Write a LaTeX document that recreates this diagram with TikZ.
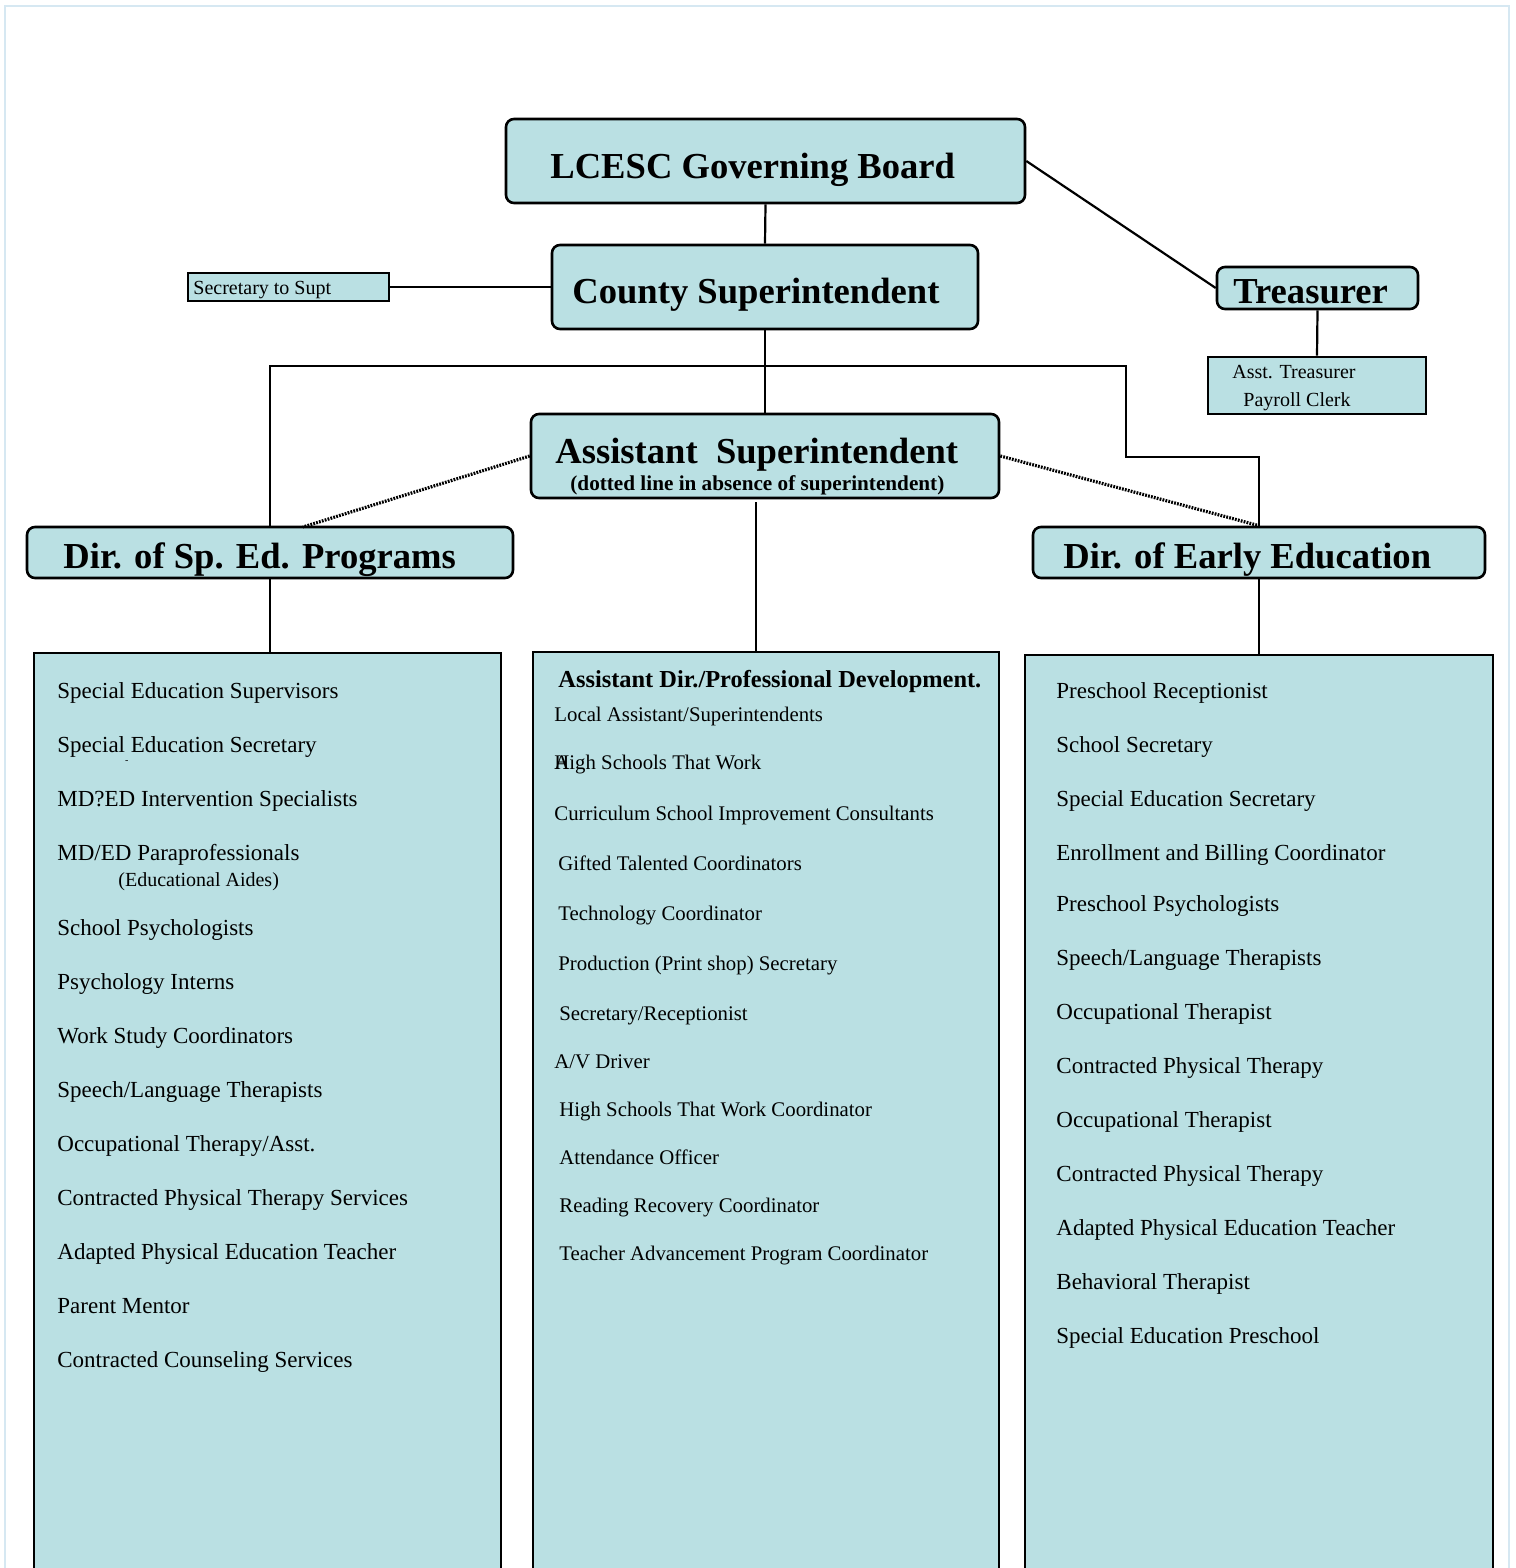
\documentclass[tikz,border=0pt]{standalone}
\usepackage{fontspec}
\setmainfont{Liberation Serif}
\usetikzlibrary{fit}
\definecolor{boxfill}{RGB}{186,224,227}
\definecolor{pageline}{RGB}{214,232,242}
\begin{document}
\begin{tikzpicture}[x=0.5pt,y=-0.5pt,
  rbox/.style={draw, line width=1.3pt, fill=boxfill, rounded corners=4pt, inner sep=0pt},
  sbox/.style={draw, line width=1.3pt, fill=boxfill, inner sep=0pt},
  conn/.style={line width=1.1pt},
  dotconn/.style={line width=1.6pt, dash pattern=on 0.9pt off 0.6pt},
  txt/.style={anchor=base west, inner sep=0pt},
  head/.style={txt, font=\fontsize{18.3}{20}\selectfont\bfseries},
  item/.style={txt, font=\fontsize{11.5}{13}\selectfont},
  mitem/.style={txt, font=\fontsize{10.4}{12}\selectfont}]
\useasboundingbox (0,0) rectangle (1515,1568);
\clip (0,0) rectangle (1515,1568);
\fill[white] (0,0) rectangle (1515,1568);
\draw[pageline, line width=0.8pt] (5,1600) -- (5,6) -- (1509,6) -- (1509,1600);

% boxes
\node[rbox, fit={(506,119) (1025,203)}] (board) {};
\node[rbox, fit={(552,245) (978,329)}] (cs) {};
\node[sbox, fit={(188,273) (389,301)}] (sec) {};
\node[rbox, fit={(1217,267) (1418,309)}] (tr) {};
\node[sbox, fit={(1208,357) (1426,414)}] (atr) {};
\node[rbox, fit={(531,414) (999,498)}] (as) {};
\node[rbox, fit={(27,527) (513,578)}] (dsp) {};
\node[rbox, fit={(1033,527) (1485,578)}] (dee) {};
\node[sbox, fit={(34,653) (501,1600)}] (lbox) {};
\node[sbox, fit={(533,652) (999,1600)}] (mbox) {};
\node[sbox, fit={(1025,655) (1493,1600)}] (ebox) {};

% connectors
\coordinate (j1) at (765,366);
\coordinate (j2) at (1126,457);
\coordinate (dl) at (303,527);
\coordinate (mt) at (756,502);
\draw[conn] (board.south) -- (cs.north);
\draw[conn] (sec.east) -- (cs.west);
\draw[conn] (board.east) -- (tr.west);
\draw[conn] (tr.south) -- (atr.north);
\draw[conn] (cs.south) -- (as.north);
\draw[conn] (j1) -| (dsp.north);
\draw[conn] (j1) -| (j2) -| (dee.north);
\draw[dotconn] (as.west) -- (dl);
\draw[dotconn] (as.east) -- (dee.north);
\draw[conn] (mt) -- (mt |- mbox.north);
\draw[conn] (dsp.south) -- (dsp.south |- lbox.north);
\draw[conn] (dee.south) -- (dee.south |- ebox.north);

% headings
\node[head] (tboard) at (550,178) {LCESC Governing Board};
\node[head] (tcs) at (572,303) {County Superintendent};
\node[txt, font=\fontsize{10}{12}\selectfont] (tsec) at (193,294) {Secretary to Supt};
\node[head] (ttr) at (1233,303) {Treasurer};
\node[txt, font=\fontsize{10}{12}\selectfont] (tatr1) at (1232,378) {Asst. Treasurer};
\node[txt, font=\fontsize{10}{12}\selectfont] (tatr2) at (1243,406) {Payroll Clerk};
\node[head] (tas) at (555,463) {Assistant\ \ Superintendent};
\node[txt, font=\fontsize{10.6}{12}\selectfont\bfseries] (tas2) at (570,490) {(dotted line in absence of superintendent)};
\node[head] (tdsp) at (63,568) {Dir. of Sp. Ed. Programs};
\node[head] (tdee) at (1063,568) {Dir. of Early Education};

% left list
\foreach \yy/\tx [count=\i] in {
  698/{Special Education Supervisors},
  752/{Special\makebox[0pt][l]{\raisebox{-1.1ex}{\tiny -}} Education Secretary},
  806/{MD?ED Intervention Specialists},
  860/{MD/ED Paraprofessionals},
  935/{School Psychologists},
  989/{Psychology Interns},
  1043/{Work Study Coordinators},
  1097/{Speech/Language Therapists},
  1151/{Occupational Therapy/Asst.},
  1205/{Contracted Physical Therapy Services},
  1259/{Adapted Physical Education Teacher},
  1313/{Parent Mentor},
  1367/{Contracted Counseling Services}}
  \node[item] (l\i) at (57,\yy) {\tx};
\node[txt, font=\fontsize{10}{12}\selectfont] (laides) at (118,886) {(Educational Aides)};

% middle list
\node[txt, font=\fontsize{12.2}{14}\selectfont\bfseries] (mhead) at (558,687) {Assistant Dir./Professional Development.};
\foreach \xx/\yy/\tx [count=\i] in {
  554/721/{Local Assistant/Superintendents},
  554/769/{\makebox[0pt][l]{A}High Schools That Work},
  554/820/{Curriculum School Improvement Consultants},
  558/870/{Gifted Talented Coordinators},
  558/920/{Technology Coordinator},
  558/970/{Production (Print shop) Secretary},
  559/1020/{Secretary/Receptionist},
  554/1068/{A/V Driver},
  559/1116/{High Schools That Work Coordinator},
  559/1164/{Attendance Officer},
  559/1212/{Reading Recovery Coordinator},
  559/1260/{Teacher Advancement Program Coordinator}}
  \node[mitem] (m\i) at (\xx,\yy) {\tx};

% right list
\foreach \yy/\tx [count=\i] in {
  698/{Preschool Receptionist},
  752/{School Secretary},
  806/{Special Education Secretary},
  860/{Enrollment and Billing Coordinator},
  911/{Preschool Psychologists},
  965/{Speech/Language Therapists},
  1019/{Occupational Therapist},
  1073/{Contracted Physical Therapy},
  1127/{Occupational Therapist},
  1181/{Contracted Physical Therapy},
  1235/{Adapted Physical Education Teacher},
  1289/{Behavioral Therapist},
  1343/{Special Education Preschool}}
  \node[item] (r\i) at (1056,\yy) {\tx};
\end{tikzpicture}
\end{document}
